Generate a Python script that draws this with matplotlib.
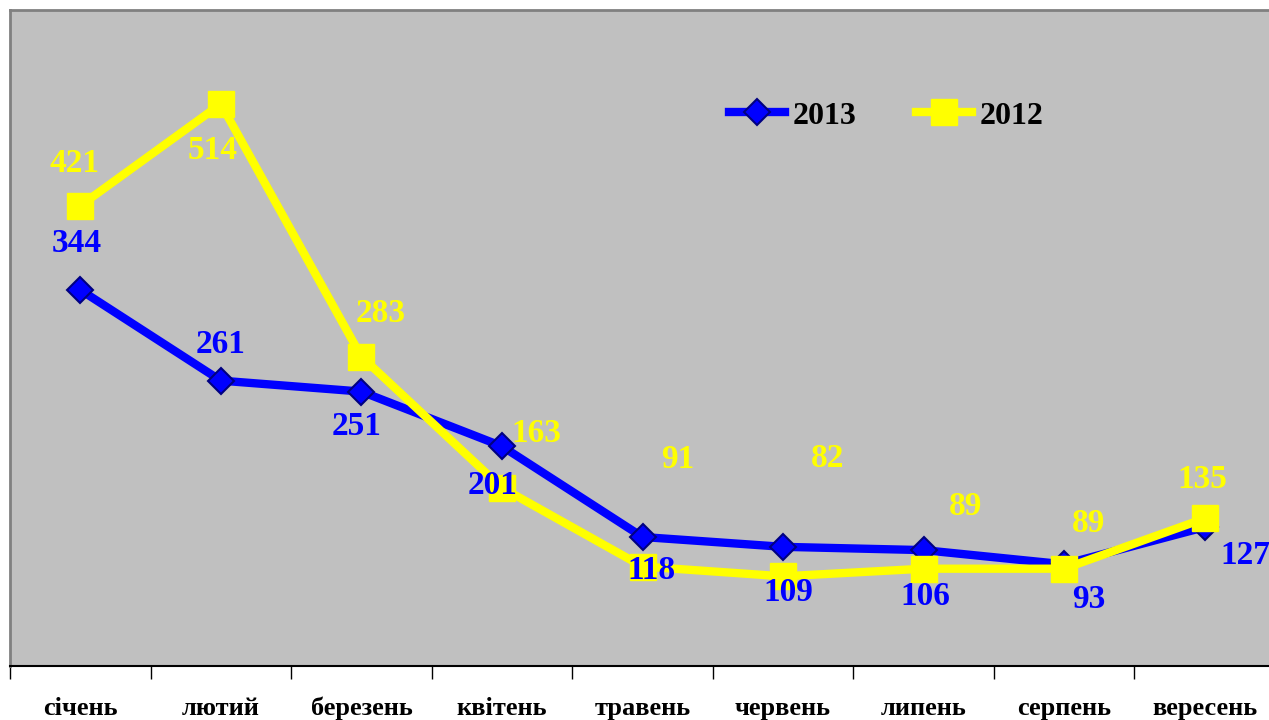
import numpy as np
import matplotlib.pyplot as plt

# дані з діаграми
months = ['січень', 'лютий', 'березень', 'квітень', 'травень',
          'червень', 'липень', 'серпень', 'вересень']
vals_2013 = [344, 261, 251, 201, 118, 109, 106, 93, 127]
vals_2012 = [421, 514, 283, 163, 91, 82, 89, 89, 135]

# зміщення підписів (пікселі)
off_2013 = [(-4, 46), (0, 36), (-5, -35), (-9, -39), (9, -34), (5, -46), (2, -46), (25, -35), (41, -28)]
off_2012 = [(-6, 42), (-8, -46), (19, 43), (34, 54), (35, 107), (45, 118), (42, 62), (24, 45), (-2, 39)]

plt.rcParams['font.family'] = ['Liberation Serif', 'DejaVu Serif']
plt.rcParams['font.weight'] = 'bold'

fig = plt.figure(figsize=(12.69, 7.2), dpi=100)
ax = fig.add_axes([10/1269, 54/720, 1265/1269, 656/720])
ax.set_facecolor('#C0C0C0')

x = np.arange(len(months))
ax.plot(x, vals_2013, color='#0000FF', lw=6, marker='D', ms=13,
        mfc='#0000FF', mec='#000080', mew=1.5, label='2013', zorder=3)
ax.plot(x, vals_2012, color='#FFFF00', lw=6, marker='s', ms=19,
        mfc='#FFFF00', mec='#FFFF00', label='2012', zorder=4)

for i in range(len(months)):
    ax.annotate(str(vals_2013[i]), (x[i], vals_2013[i]), xytext=off_2013[i],
                textcoords='offset pixels', ha='center', va='center',
                color='#0000FF', fontsize=24, fontweight='bold', zorder=6)
    ax.annotate(str(vals_2012[i]), (x[i], vals_2012[i]), xytext=off_2012[i],
                textcoords='offset pixels', ha='center', va='center',
                color='#FFFF00', fontsize=24, fontweight='bold', zorder=6)

ax.set_xlim(-0.5, len(months) - 0.5)
ax.set_ylim(0, 600)
ax.set_yticks([])
ax.set_xticks(x)
ax.set_xticklabels(months, fontsize=19, fontweight='bold')
ax.tick_params(axis='x', which='major', length=0, pad=22)
ax.set_xticks(np.arange(-0.5, len(months)), minor=True)
ax.tick_params(axis='x', which='minor', length=9, width=1, color='black', direction='out')

for s in ['top', 'left', 'right']:
    ax.spines[s].set_color('#808080')
    ax.spines[s].set_linewidth(2)
ax.spines['bottom'].set_color('black')
ax.spines['bottom'].set_linewidth(1.5)

leg = ax.legend(loc='center left', bbox_to_anchor=(700/1269, 1 - 116/720),
                bbox_transform=fig.transFigure, ncol=2, frameon=False,
                numpoints=1, handlelength=1.75, handletextpad=0.25,
                columnspacing=1.85, prop={'size': 23, 'weight': 'bold'})

fig.savefig('out.png', dpi=100)
